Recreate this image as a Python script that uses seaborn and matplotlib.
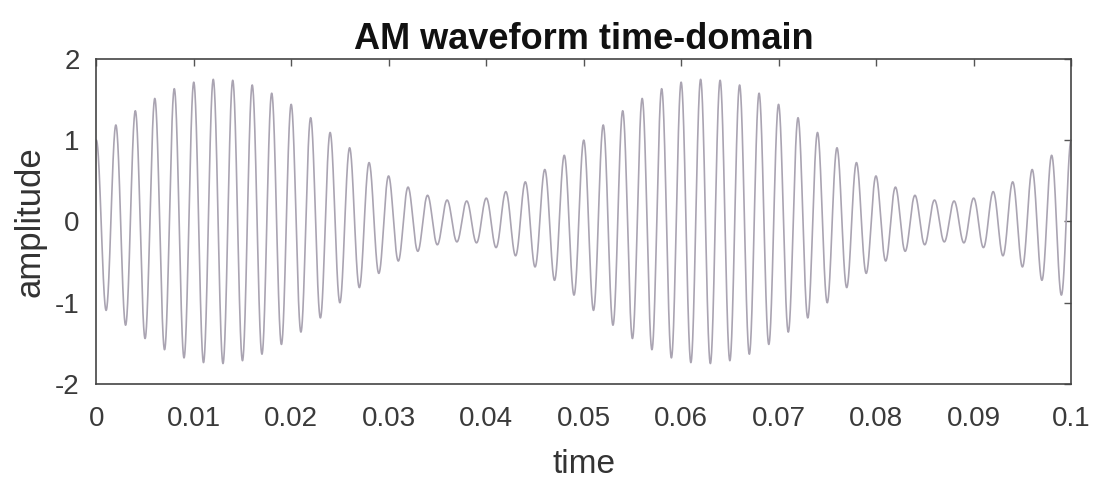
import numpy as np
import pandas as pd
import matplotlib
matplotlib.use("Agg")
import matplotlib.pyplot as plt
import seaborn as sns

# Signal parameters (AM waveform)
carrier_freq = [500.0]      # Hz (about 50 cycles over 0.1 s)
message_freq = [20.0]       # Hz (envelope period 0.05 s)
mod_index = [0.75]          # envelope swings between 0.25 and 1.75
carrier_amp = [1.0]
time_span = [0.0, 0.1]

x_ticks = [0, 0.01, 0.02, 0.03, 0.04, 0.05, 0.06, 0.07, 0.08, 0.09, 0.1]
x_tick_labels = ["0", "0.01", "0.02", "0.03", "0.04", "0.05", "0.06", "0.07", "0.08", "0.09", "0.1"]
y_ticks = [-2, -1, 0, 1, 2]
y_tick_labels = ["-2", "-1", "0", "1", "2"]

t = np.linspace(time_span[0], time_span[1], 8001)
y = carrier_amp[0] * (1 + mod_index[0] * np.sin(2 * np.pi * message_freq[0] * t)) * np.cos(2 * np.pi * carrier_freq[0] * t)
df = pd.DataFrame({"time": t, "amplitude": y})

sns.set_theme(style="white")
plt.rcParams["font.family"] = ["Liberation Sans", "DejaVu Sans"]

fig = plt.figure(figsize=(10.94, 4.91), dpi=100)
ax = fig.add_axes([0.088, 0.218, 0.891, 0.662])
sns.lineplot(data=df, x="time", y="amplitude", ax=ax, color="#aaa4b2", linewidth=1.2, estimator=None)

ax.set_xlim(time_span)
ax.set_ylim(-2, 2)
ax.set_xticks(x_ticks)
ax.set_xticklabels(x_tick_labels, fontsize=20, color="#444444")
ax.set_yticks(y_ticks)
ax.set_yticklabels(y_tick_labels, fontsize=20, color="#333333")
ax.tick_params(direction="in", length=5, width=1, top=True, right=True, colors="#555555",
               labelcolor="#3a3a3a")
ax.tick_params(axis="x", pad=16)
ax.tick_params(axis="y", pad=12)
for s in ax.spines.values():
    s.set_color("#444444")
    s.set_linewidth(1.2)
    s.set_visible(True)
ax.set_xlabel("time", fontsize=24, color="#333333", labelpad=12)
ax.set_ylabel("amplitude", fontsize=25, color="#333333", labelpad=6)
ax.set_title("AM waveform time-domain", fontsize=26, fontweight="bold", color="#111111", pad=7)

fig.savefig("out.png", dpi=100)
